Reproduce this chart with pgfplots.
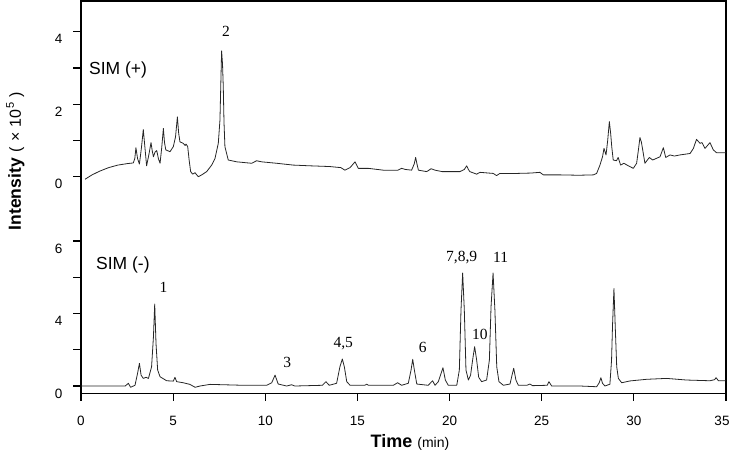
\documentclass[border=0pt]{standalone}
\usepackage{fontspec}
\setmainfont{Liberation Sans}
\newfontfamily\serifnum{Liberation Serif}
\usepackage{pgfplots}
\usepackage{pgfplotstable}
\pgfplotsset{compat=1.18}

% SIM (+) trace: time (min), intensity (x 10^5)
\pgfplotstableread{
t v
0.22 -0.07
0.6 0.05
1.0 0.15
1.5 0.25
2.0 0.32
2.5 0.36
2.84 0.38
2.92 0.5
2.98 0.8
3.07 0.5
3.17 0.35
3.28 0.8
3.38 1.3
3.47 0.8
3.56 0.3
3.68 0.6
3.80 0.94
3.87 0.7
3.93 0.55
4.02 0.68
4.11 0.72
4.2 0.5
4.29 0.37
4.38 0.8
4.47 1.33
4.53 0.95
4.6 0.74
4.83 0.69
5.01 0.83
5.13 1.1
5.23 1.65
5.3 1.2
5.37 0.96
5.55 0.92
5.65 0.86
5.70 0.9
5.79 0.83
5.87 0.45
5.95 0.14
6.06 0.07
6.19 0.11
6.28 0.05
6.37 0.0
6.55 0.05
6.82 0.14
7.09 0.32
7.27 0.5
7.45 0.92
7.54 1.56
7.63 3.47
7.68 3.1
7.72 2.48
7.76 1.5
7.81 0.83
7.99 0.46
8.45 0.41
9.26 0.37
9.53 0.44
9.8 0.41
10.62 0.37
11.52 0.32
12.43 0.30
13.5 0.28
14.1 0.25
14.32 0.18
14.6 0.25
14.87 0.41
15.05 0.23
15.59 0.23
16.4 0.18
17.2 0.18
17.4 0.23
17.6 0.2
17.94 0.18
18.08 0.35
18.16 0.53
18.24 0.33
18.31 0.18
18.76 0.14
19.0 0.22
19.21 0.18
19.6 0.14
20.56 0.14
20.8 0.2
20.93 0.30
21.02 0.2
21.1 0.14
21.47 0.07
21.65 0.12
22.37 0.09
22.55 0.03
22.73 0.09
23.64 0.09
24.4 0.1
24.9 0.12
25.09 0.05
26.0 0.05
27.0 0.04
27.8 0.05
27.98 0.09
28.16 0.32
28.3 0.55
28.38 0.78
28.49 0.6
28.58 1.0
28.67 1.52
28.74 1.2
28.8 0.83
28.88 0.46
29.06 0.44
29.15 0.53
29.28 0.32
29.46 0.37
29.7 0.3
29.97 0.23
30.15 0.37
30.25 0.75
30.33 1.08
30.41 0.95
30.48 0.74
30.6 0.37
30.84 0.53
31.02 0.46
31.2 0.5
31.42 0.55
31.6 0.8
31.73 0.53
31.96 0.6
32.2 0.57
32.5 0.6
33.05 0.64
33.23 0.78
33.4 1.03
33.59 0.92
33.7 0.94
33.86 0.78
34.13 0.94
34.31 0.74
34.49 0.66
35.0 0.66
}\toptrace

% SIM (-) trace: time (min), intensity as labelled on the lower scale
\pgfplotstableread{
t v
0.0 0.0
2.4 0.0
2.57 0.15
2.69 -0.07
2.93 0.04
3.07 0.7
3.17 1.25
3.26 0.6
3.38 0.42
3.53 0.48
3.66 0.42
3.83 1.06
3.93 2.7
4.0 4.52
4.07 2.35
4.16 0.88
4.29 0.51
4.65 0.29
5.01 0.27
5.1 0.48
5.19 0.24
5.55 0.18
5.91 0.09
6.19 -0.07
6.46 0.0
7.0 0.09
8.8 0.04
10.07 0.04
10.35 0.18
10.53 0.6
10.7 0.11
11.16 0.0
11.43 0.07
11.6 0.0
13.1 0.04
13.29 0.24
13.47 0.04
13.87 0.15
14.05 1.06
14.18 1.49
14.29 1.06
14.42 0.24
14.6 0.04
15.4 0.04
15.5 0.1
15.6 0.04
16.95 0.04
17.18 0.18
17.4 0.04
17.76 0.15
17.91 0.88
18.0 1.47
18.09 0.88
18.22 0.11
18.84 0.04
19.08 0.29
19.21 0.04
19.39 0.24
19.64 1.01
19.77 0.33
19.93 0.04
20.39 0.04
20.53 0.88
20.62 4.19
20.71 6.24
20.8 4.19
20.89 0.88
21.02 0.33
21.14 0.6
21.25 1.43
21.36 2.17
21.47 1.43
21.58 0.48
21.74 0.24
22.01 0.33
22.16 1.43
22.25 4.37
22.36 6.24
22.46 4.19
22.56 1.06
22.68 0.24
22.92 0.04
23.28 0.11
23.39 0.6
23.48 0.98
23.6 0.33
23.73 0.04
24.2 0.04
24.36 0.11
24.5 0.02
25.3 0.04
25.39 0.24
25.54 0.0
27.08 0.0
27.98 -0.04
28.12 0.18
28.21 0.46
28.3 0.15
28.43 0.0
28.7 0.1
28.79 1.43
28.84 3.27
28.92 5.38
28.99 3.27
29.07 1.06
29.16 0.42
29.34 0.18
29.79 0.28
30.69 0.37
31.78 0.42
32.86 0.33
34.13 0.29
34.38 0.35
34.46 0.46
34.59 0.29
34.98 0.29
}\bottomtrace

\begin{document}
\begin{tikzpicture}
\begin{axis}[
  at={(0pt,0pt)}, anchor=south west,
  scale only axis, width=645pt, height=392.5pt,
  xmin=0, xmax=35, ymin=-0.201, ymax=10.626,
  xtick={0,5,...,35},
  xticklabels={0,5,10,15,20,25,30,{\hspace*{-8pt}35}},
  ytick={0,1,2,3,4,5.774,6.774,7.774,8.774,9.774},
  yticklabels={0,,4,,6,0,,2,,4},
  tick pos=left, tick align=outside, major tick length=7.5pt,
  axis line style={line width=1.5pt},
  every tick/.style={black, line width=1.2pt},
  /pgf/number format/assume math mode=true,
  tick label style={font=\fontsize{13.5}{15}\selectfont},
  yticklabel style={yshift=-7.5pt, xshift=-7.5pt},
  xticklabel style={yshift=-12pt},
  clip=false,
]
\addplot[black!85, line width=0.8pt, line join=round] table[x=t, y expr=\thisrow{v}+5.774] {\toptrace};
\addplot[black!85, line width=0.8pt, line join=round] table[x=t, y expr=\thisrow{v}/2] {\bottomtrace};

\node[font=\fontsize{17.5}{20}\selectfont, anchor=west, inner sep=0pt] at (axis cs:0.434,8.717) {SIM (+)};
\node[font=\fontsize{17.5}{20}\selectfont, anchor=west, inner sep=0pt] at (axis cs:0.814,3.338) {SIM (-)};

\begin{scope}[every node/.style={font=\serifnum\fontsize{15.5}{17}\selectfont, inner sep=0pt}]
\node at (axis cs:7.87,9.774) {2};
\node at (axis cs:4.47,2.72) {1};
\node at (axis cs:11.19,0.643) {3};
\node at (axis cs:14.23,1.178) {4,5};
\node at (axis cs:18.54,1.068) {6};
\node at (axis cs:21.65,1.434) {10};
\node at (axis cs:20.66,3.55) {7,8,9};
\node at (axis cs:22.77,3.55) {11};
\end{scope}

\node[rotate=90, anchor=base, inner sep=0pt] at (axis cs:-3.256,6.2)
  {{\fontsize{17.5}{20}\selectfont\bfseries Intensity}\hspace{6pt}{\fontsize{16}{18}\selectfont(\hspace{5pt}×\hspace{5pt}10\hspace{1pt}\raisebox{7pt}{\fontsize{11}{12}\selectfont 5}\hspace{5pt})}};
\node[anchor=base, inner sep=0pt] at (axis cs:17.85,-1.702)
  {{\fontsize{18}{20}\selectfont\bfseries Time}\hspace{5pt}{\fontsize{14}{16}\selectfont(min)}};
\end{axis}
\pgfresetboundingbox
\path (-81pt,-58.7pt) rectangle (650pt,393.3pt);
\end{tikzpicture}
\end{document}
